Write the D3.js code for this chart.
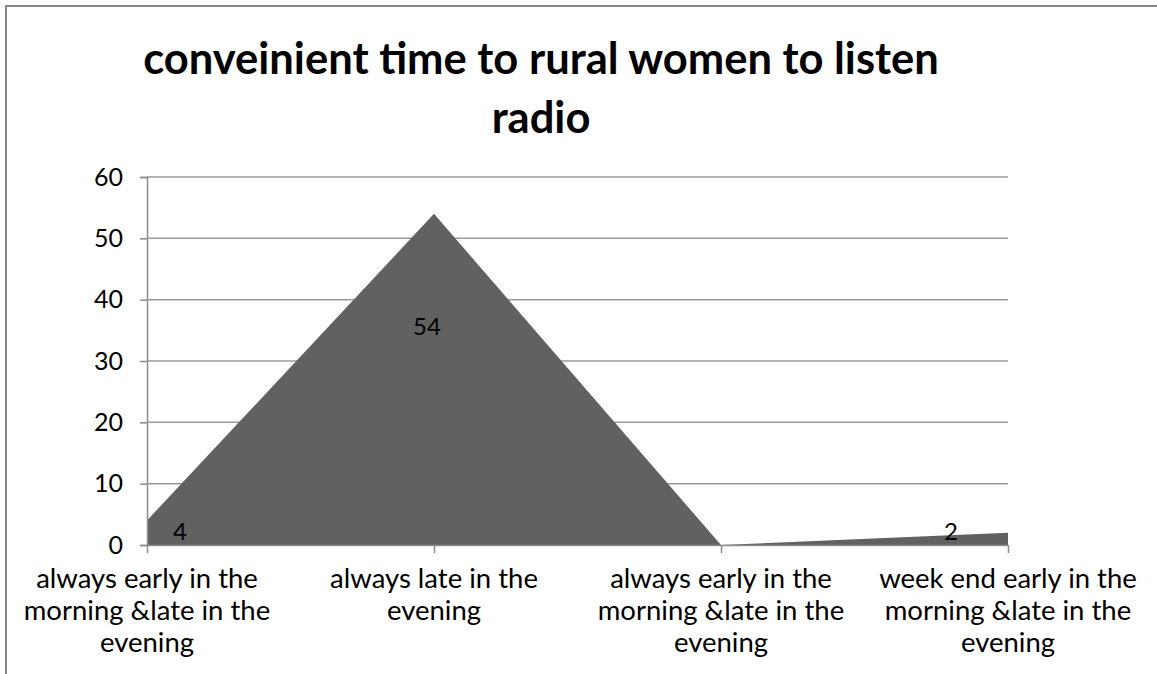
<!DOCTYPE html>
<html>
<head>
<meta charset="utf-8">
<script src="https://cdn.jsdelivr.net/npm/d3@7"></script>
<style>
  html, body { margin: 0; padding: 0; background: #fff; }
  svg { display: block; }
</style>
</head>
<body>
<svg id="chart" width="1157" height="674"></svg>
<script>
// Survey data: convenient listening time
const categories = [
  ["always early in the", "morning &late in the", "evening"],
  ["always late in the", "evening"],
  ["always early in the", "morning &late in the", "evening"],
  ["week end early in the", "morning &late in the", "evening"]
];
const values = [4, 54, 0, 2];
const yTicks = [0, 10, 20, 30, 40, 50, 60];
const titleLines = ["conveinient time to rural women to listen", "radio"];

const svg = d3.select("#chart");
const font = "Lato, 'Open Sans', sans-serif";

// chart frame
svg.append("path")
  .attr("d", "M6,674 V6 H1157")
  .attr("fill", "none")
  .attr("stroke", "#878787")
  .attr("stroke-width", 2);

// title
svg.append("g").selectAll("text")
  .data(titleLines)
  .join("text")
  .attr("x", 541)
  .attr("y", (d, i) => 74 + i * 59)
  .attr("text-anchor", "middle")
  .attr("font-family", font)
  .attr("font-weight", "bold")
  .attr("font-size", 43.5)
  .attr("fill", "#000")
  .text(d => d);

const plot = { left: 147, right: 1008, top: 177, bottom: 545 };

const x = d3.scalePoint()
  .domain(d3.range(values.length))
  .range([plot.left, plot.right]);

const y = d3.scaleLinear()
  .domain([0, 60])
  .range([plot.bottom, plot.top]);

// horizontal gridlines
svg.append("g").selectAll("line")
  .data(yTicks.filter(t => t > 0))
  .join("line")
  .attr("x1", plot.left)
  .attr("x2", plot.right)
  .attr("y1", d => y(d))
  .attr("y2", d => y(d))
  .attr("stroke", "#9a9a9a")
  .attr("stroke-width", 1.5);

// area series
const area = d3.area()
  .x((d, i) => x(i))
  .y0(y(0))
  .y1(d => y(d));

svg.append("path")
  .datum(values)
  .attr("d", area)
  .attr("fill", "#616161");

// y axis
const yAxis = svg.append("g")
  .attr("transform", `translate(${plot.left},0)`)
  .call(d3.axisLeft(y).tickValues(yTicks).tickSize(7).tickPadding(17));
yAxis.select(".domain").attr("stroke", "#8c8c8c").attr("stroke-width", 1.5);
yAxis.selectAll(".tick line").attr("stroke", "#8c8c8c").attr("stroke-width", 1.5);
yAxis.selectAll(".tick text")
  .attr("font-family", font)
  .attr("font-size", 25)
  .attr("fill", "#000");

// x axis
const xAxis = svg.append("g")
  .attr("transform", `translate(0,${plot.bottom})`)
  .call(d3.axisBottom(x).tickSize(8).tickSizeOuter(0).tickFormat(""));
xAxis.select(".domain").attr("stroke", "#8c8c8c").attr("stroke-width", 1.5);
xAxis.selectAll(".tick line").attr("stroke", "#8c8c8c").attr("stroke-width", 1.5);

// category labels
const catG = svg.append("g")
  .attr("font-family", font)
  .attr("font-size", 27.5)
  .attr("fill", "#000")
  .attr("text-anchor", "middle");
categories.forEach((lines, i) => {
  const t = catG.append("text").attr("x", x(i)).attr("y", 588);
  lines.forEach((ln, j) => {
    t.append("tspan").attr("x", x(i)).attr("y", 588 + j * 32).text(ln);
  });
});

// data labels
const labelDx = [33, -7, 0, -57];
svg.append("g").selectAll("text")
  .data(values.map((v, i) => ({ v, i })).filter(d => d.v !== 0))
  .join("text")
  .attr("x", d => x(d.i) + labelDx[d.i])
  .attr("y", d => d.v > 10 ? y(d.v * 0.66) : y(0) - 13)
  .attr("dy", "0.35em")
  .attr("text-anchor", "middle")
  .attr("font-family", font)
  .attr("font-size", 24)
  .attr("fill", "#000")
  .text(d => d.v);
</script>
</body>
</html>
